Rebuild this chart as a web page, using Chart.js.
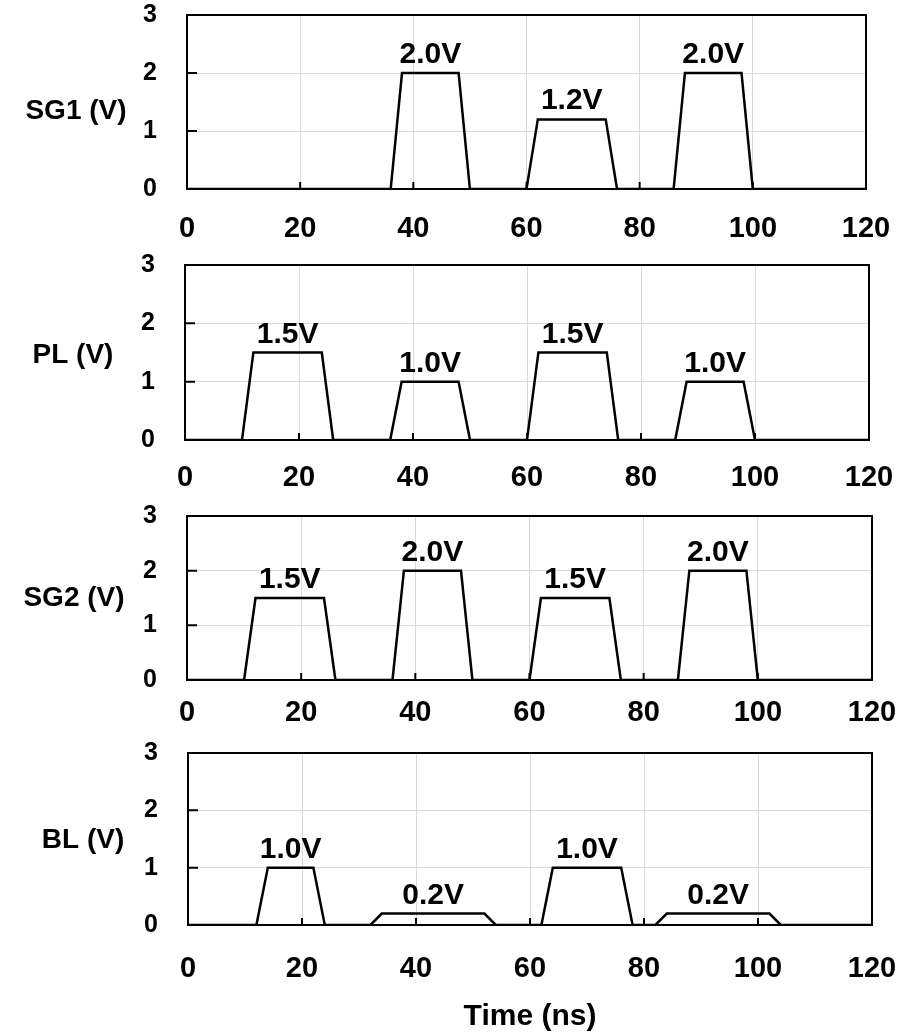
<!DOCTYPE html>
<html>
<head>
<meta charset="utf-8">
<script src="https://cdn.jsdelivr.net/npm/chart.js@4.4.1/dist/chart.umd.min.js"></script>
<style>
  body { margin: 0; background: #fff; }
  #wrap { position: relative; width: 904px; height: 1032px; }
  canvas { position: absolute; left: 0; }
</style>
</head>
<body>
<div id="wrap">
  <canvas id="sg1" width="904" height="250" style="top:0px"></canvas>
  <canvas id="pl" width="904" height="250" style="top:250px"></canvas>
  <canvas id="sg2" width="904" height="240" style="top:500px"></canvas>
  <canvas id="bl" width="904" height="292" style="top:740px"></canvas>
</div>
<script>
// tick values
const timeTicks = [0, 20, 40, 60, 80, 100, 120];
const voltTicks = [0, 1, 2, 3];

// waveforms (time in ns, level in V)
const sg1Time = [0, 36, 38, 48, 50, 60, 62, 74, 76, 86, 88, 98, 100, 120];
const sg1Volt = [0, 0, 2, 2, 0, 0, 1.2, 1.2, 0, 0, 2, 2, 0, 0];
const sg1Labels = ['2.0V', '1.2V', '2.0V'];

const plTime = [0, 10, 12, 24, 26, 36, 38, 48, 50, 60, 62, 74, 76, 86, 88, 98, 100, 120];
const plVolt = [0, 0, 1.5, 1.5, 0, 0, 1, 1, 0, 0, 1.5, 1.5, 0, 0, 1, 1, 0, 0];
const plLabels = ['1.5V', '1.0V', '1.5V', '1.0V'];

const sg2Time = [0, 10, 12, 24, 26, 36, 38, 48, 50, 60, 62, 74, 76, 86, 88, 98, 100, 120];
const sg2Volt = [0, 0, 1.5, 1.5, 0, 0, 2, 2, 0, 0, 1.5, 1.5, 0, 0, 2, 2, 0, 0];
const sg2Labels = ['1.5V', '2.0V', '1.5V', '2.0V'];

const blTime = [0, 12, 14, 22, 24, 32, 34, 52, 54, 62, 64, 76, 78, 82, 84, 102, 104, 120];
const blVolt = [0, 0, 1, 1, 0, 0, 0.2, 0.2, 0, 0, 1, 1, 0, 0, 0.2, 0.2, 0, 0];
const blLabels = ['1.0V', '0.2V', '1.0V', '0.2V'];

const FONT = '"Liberation Sans", Arial, sans-serif';

// frame, inner tick marks, pulse labels and the horizontal axis name
const pulseDeco = {
  id: 'pulseDeco',
  beforeDatasetsDraw(chart) {
    const { ctx, chartArea: a, scales: { x, y } } = chart;
    ctx.save();
    ctx.strokeStyle = '#000';
    ctx.lineWidth = 2;
    ctx.strokeRect(a.left, a.top, a.right - a.left, a.bottom - a.top);
    ctx.beginPath();
    x.ticks.forEach(t => {
      const px = x.getPixelForValue(t.value);
      ctx.moveTo(px, a.bottom);
      ctx.lineTo(px, a.bottom - 7);
    });
    y.ticks.forEach(t => {
      const py = y.getPixelForValue(t.value);
      ctx.moveTo(a.left, py);
      ctx.lineTo(a.left + 10, py);
    });
    ctx.stroke();
    ctx.restore();
  },
  afterDatasetsDraw(chart, args, opts) {
    const { ctx, chartArea: a, scales: { x, y } } = chart;
    const pts = chart.data.datasets[0].data;
    ctx.save();
    ctx.fillStyle = '#000';
    ctx.font = 'bold 30px ' + FONT;
    ctx.textAlign = 'center';
    ctx.textBaseline = 'alphabetic';
    let k = 0;
    for (let i = 0; i < pts.length - 1; i++) {
      if (pts[i].y > 0 && pts[i].y === pts[i + 1].y) {
        const cx = x.getPixelForValue((pts[i].x + pts[i + 1].x) / 2);
        const cy = y.getPixelForValue(pts[i].y) - 10;
        ctx.fillText(opts.labels[k++], cx, cy);
      }
    }
    ctx.font = 'bold 28px ' + FONT;
    ctx.textBaseline = 'middle';
    ctx.fillText(opts.name, opts.nameX, (a.top + a.bottom) / 2 + opts.nameDy);
    ctx.restore();
  }
};

function makePanel(id, times, volts, labels, name, lay) {
  const points = times.map((t, i) => ({ x: t, y: volts[i] }));
  return new Chart(document.getElementById(id), {
    type: 'line',
    data: {
      datasets: [{
        data: points,
        borderColor: '#000',
        borderWidth: 2.5,
        pointRadius: 0,
        tension: 0,
        fill: false
      }]
    },
    options: {
      responsive: false,
      animation: false,
      layout: { padding: { top: lay.top, right: 904 - lay.right, bottom: 0, left: 0 } },
      plugins: {
        legend: { display: false },
        tooltip: { enabled: false },
        pulseDeco: { labels: labels, name: name, nameX: lay.nameX, nameDy: lay.nameDy }
      },
      scales: {
        x: {
          type: 'linear',
          min: 0,
          max: 120,
          afterBuildTicks: s => { s.ticks = timeTicks.map(v => ({ value: v })); },
          afterFit: s => { s.height = lay.axisH; s.paddingLeft = 0; s.paddingRight = 0; },
          grid: { color: '#d9d9d9', lineWidth: 1, drawTicks: false },
          border: { display: false },
          ticks: { color: '#000', padding: lay.tickPad, font: { family: FONT, size: 29, weight: 'bold' } },
          title: {
            display: !!lay.xTitle,
            text: lay.xTitle || '',
            color: '#000',
            padding: 0,
            font: { family: FONT, size: 30, weight: 'bold', lineHeight: 1 }
          }
        },
        y: {
          min: 0,
          max: 3,
          afterBuildTicks: s => { s.ticks = voltTicks.map(v => ({ value: v })); },
          afterFit: s => { s.width = lay.left; s.paddingTop = 0; s.paddingBottom = 0; },
          grid: { color: '#d9d9d9', lineWidth: 1, drawTicks: false },
          border: { display: false },
          ticks: { color: '#000', padding: 30, font: { family: FONT, size: 25, weight: 'bold' } }
        }
      }
    },
    plugins: [pulseDeco]
  });
}

makePanel('sg1', sg1Time, sg1Volt, sg1Labels, 'SG1 (V)',
  { left: 187, right: 866, top: 15, axisH: 61, tickPad: 23, nameX: 76, nameDy: 9 });
makePanel('pl', plTime, plVolt, plLabels, 'PL (V)',
  { left: 185, right: 869, top: 15, axisH: 60, tickPad: 21, nameX: 73, nameDy: 3 });
makePanel('sg2', sg2Time, sg2Volt, sg2Labels, 'SG2 (V)',
  { left: 187, right: 872, top: 16, axisH: 60, tickPad: 16, nameX: 74, nameDy: 0 });
makePanel('bl', blTime, blVolt, blLabels, 'BL (V)',
  { left: 188, right: 872, top: 13, axisH: 107, tickPad: 27, nameX: 83, nameDy: 1, xTitle: 'Time (ns)' });
</script>
</body>
</html>
